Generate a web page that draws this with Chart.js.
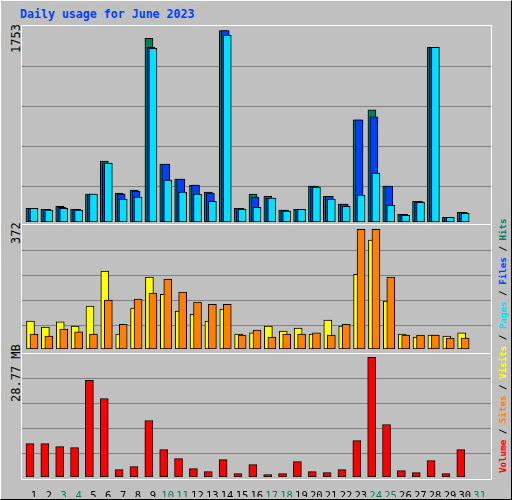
<!DOCTYPE html>
<html>
<head>
<meta charset="utf-8">
<script src="https://cdn.jsdelivr.net/npm/chart.js@4/dist/chart.umd.min.js"></script>
<style>
  body { margin: 0; background: #fff; }
  #box { position: absolute; left: 0; top: 0; width: 510px; height: 498px; background: #c0c0c0;
         border-top: 1px solid #fff; border-left: 1px solid #fff; border-right: 1px solid #000; border-bottom: 1px solid #000;
         font-family: "DejaVu Sans Mono", monospace; }
  .frame { position: absolute; border: 1px solid #fff; box-sizing: border-box; }
  canvas { position: absolute; }
  .rot { position: absolute; transform-origin: 0 0; transform: rotate(-90deg); white-space: nowrap; }
</style>
</head>
<body>
<div id="box">
  <div style="position:absolute;left:19px;top:6px;color:#0040ff;font-weight:bold;font-size:11.6px;">Daily usage for June 2023</div>
  <div class="frame" style="left:20px;top:24px;width:471px;height:200px"></div>
  <div class="frame" style="left:20px;top:223px;width:471px;height:130px"></div>
  <div class="frame" style="left:20px;top:352px;width:471px;height:127px"></div>
  <div class="rot" style="left:8px;top:52px;font-size:12px">1753</div>
  <div class="rot" style="left:8px;top:243px;font-size:12px">372</div>
  <div class="rot" style="left:8px;top:401px;font-size:12px">28.77 MB</div>
  <div class="rot" style="left:496px;top:472px;font-size:9.2px;font-weight:bold">
    <span style="color:#ff0000">Volume</span> / <span style="color:#ff8000">Sites</span> / <span style="color:#ffff00">Visits</span> / <span style="color:#00e0ff">Pages</span> / <span style="color:#0040ff">Files</span> / <span style="color:#00805c">Hits</span>
  </div>
  <canvas id="c1" width="469" height="196" style="left:21px;top:25px"></canvas>
  <canvas id="c2" width="469" height="123" style="left:21px;top:225px"></canvas>
  <canvas id="c3" width="469" height="143" style="left:21px;top:353px"></canvas>
</div>
<script>
const days = [1,2,3,4,5,6,7,8,9,10,11,12,13,14,15,16,17,18,19,20,21,22,23,24,25,26,27,28,29,30,31];
const weekend = [3,4,10,11,17,18,24,25,31];

const hits  = [126,117,144,117,255,558,264,292,1681,531,393,338,273,1753,126,255,236,108,117,328,236,163,935,1026,328,71,190,1598,43,89];
const files = [126,117,135,117,255,540,255,283,1598,531,393,338,264,1753,126,227,218,108,117,328,236,163,935,962,328,71,190,1598,43,89];
const pages = [126,108,126,108,255,540,209,227,1589,384,273,255,190,1711,117,135,218,99,117,319,209,144,246,448,153,62,181,1598,43,80];

const visits = [87,68,84,71,133,242,46,127,223,170,118,108,87,124,46,50,71,56,65,46,90,71,232,338,149,46,37,43,40,50];
const sites  = [46,40,62,53,46,152,77,155,174,217,177,146,139,139,43,59,37,46,46,50,43,77,372,372,223,43,43,43,34,34];

const volume = [8.04,8.04,7.31,7.07,23.22,18.88,1.77,2.49,13.58,6.59,4.42,2.01,1.29,4.18,0.80,2.97,0.56,0.80,3.70,1.29,1.04,1.77,8.76,28.77,12.62,1.53,1.04,3.94,0.80,6.59];

const xMin = 0.193, xMax = 31.74;

function pts(arr, shift) {
  return arr.map((v, i) => ({ x: days[i] + shift, y: v }));
}
// lower order = drawn on top
function ds(arr, shift, color, order) {
  return { data: pts(arr, shift), backgroundColor: color, borderColor: '#000', borderWidth: 1,
           borderSkipped: false, barThickness: 8, grouped: false, order: order };
}

function makeChart(id, datasets, yMax, grid, showDays) {
  new Chart(document.getElementById(id), {
    type: 'bar',
    data: { datasets: datasets },
    options: {
      responsive: false, animation: false, devicePixelRatio: 1,
      layout: { padding: 0 },
      plugins: { legend: { display: false }, tooltip: { enabled: false } },
      scales: {
        x: {
          type: 'linear', min: xMin, max: xMax, offset: false, display: showDays,
          grid: { display: false }, border: { display: false },
          afterBuildTicks: s => { s.ticks = days.map(d => ({ value: d })); },
          afterFit: s => { s.height = showDays ? 20 : 0; },
          ticks: {
            autoSkip: false, maxRotation: 0, padding: 5,
            font: { family: 'DejaVu Sans Mono', size: 10.5 },
            color: c => weekend.includes(c.tick.value) ? '#00805c' : '#000'
          }
        },
        y: {
          min: 0, max: yMax,
          afterBuildTicks: s => { s.ticks = grid.map(v => ({ value: v })); },
          afterFit: s => { s.width = 0; },
          ticks: { display: false },
          grid: { color: '#808080', lineWidth: 1, drawTicks: false },
          border: { display: false }
        }
      }
    }
  });
}

makeChart('c1', [
  ds(hits, -0.27, '#00805c', 3),
  ds(files, -0.135, '#0040ff', 2),
  ds(pages, 0, '#00e0ff', 1)
], 1794, [1423, 1057, 691, 325], false);

makeChart('c2', [
  ds(visits, -0.235, '#ffff00', 2),
  ds(sites, 0, '#ff8000', 1)
], 382, [306.8, 229, 151.4, 73.7], false);

makeChart('c3', [
  ds(volume, -0.27, '#ff0000', 1)
], 29.57, [23.73, 17.72, 11.71, 5.70], true);
</script>
</body>
</html>
